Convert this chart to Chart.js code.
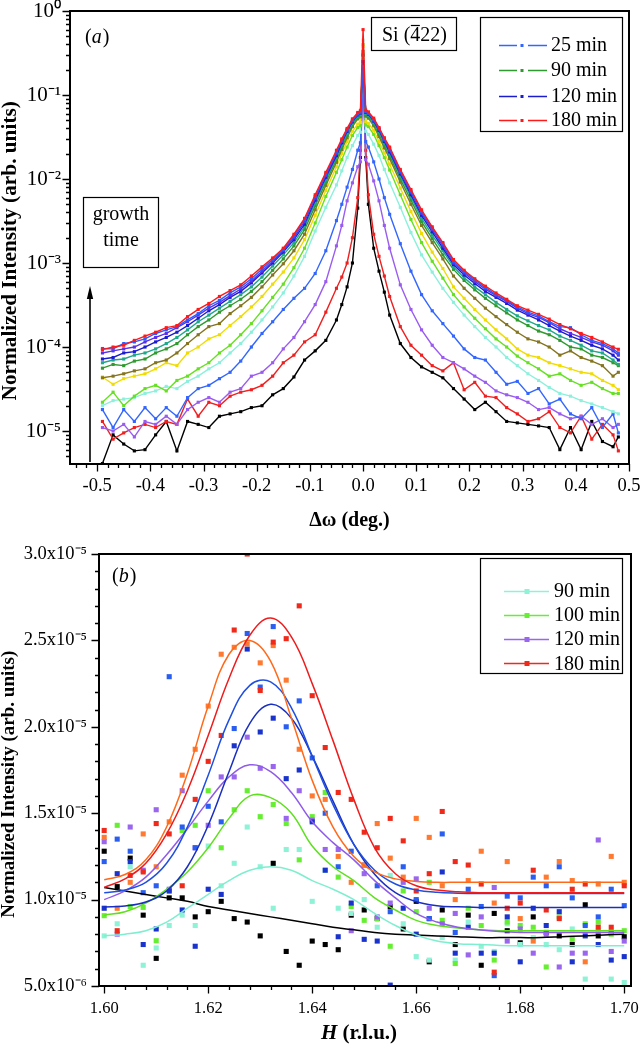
<!DOCTYPE html>
<html><head><meta charset="utf-8">
<script src="https://cdn.jsdelivr.net/npm/chart.js@4.4.1/dist/chart.umd.min.js"></script>
<style>
html,body{margin:0;padding:0;background:#fff;}
#wrap{position:relative;width:640px;height:1057px;overflow:hidden;background:#fff;}
#c1{position:absolute;left:0;top:0;width:640px;height:540px;}
#c2{position:absolute;left:0;top:540px;width:640px;height:517px;}
</style></head><body>
<div id="wrap"><canvas id="c1" width="640" height="540"></canvas><canvas id="c2" width="640" height="517"></canvas></div>
<script>
// ---------------- Panel (a) data ----------------
const omega = [-0.49,-0.47,-0.45,-0.43,-0.41,-0.39,-0.37,-0.35,-0.33,-0.31,-0.29,-0.27,-0.25,-0.23,-0.21,-0.19,-0.17,-0.15,-0.13,-0.11,
 -0.09,-0.07,-0.05,-0.04,-0.03,-0.02,-0.01,-0.005,0,0.005,0.01,0.02,0.03,0.04,0.05,0.07,0.09,
 0.11,0.13,0.15,0.17,0.19,0.21,0.23,0.25,0.27,0.29,0.31,0.33,0.35,0.37,0.39,0.41,0.43,0.45,0.47,0.48];
const sRed2 = [9.3e-5,1.0e-4,1.05e-4,1.2e-4,1.35e-4,1.5e-4,1.7e-4,1.8e-4,2.3e-4,2.8e-4,3.3e-4,4.0e-4,4.7e-4,5.5e-4,7.0e-4,9.0e-4,1.15e-3,1.5e-3,2.2e-3,3.4e-3,
 6.5e-3,1.2e-2,2.2e-2,3.0e-2,4.0e-2,5.2e-2,6.2e-2,6.5e-2,0.6,6.6e-2,6.3e-2,5.3e-2,4.1e-2,3.1e-2,2.4e-2,1.3e-2,7.5e-3,
 4.3e-3,2.7e-3,1.75e-3,1.1e-3,8.2e-4,6.5e-4,5.3e-4,4.4e-4,3.7e-4,3.1e-4,2.75e-4,2.45e-4,2.15e-4,1.85e-4,1.65e-4,1.45e-4,1.3e-4,1.15e-4,1.0e-4,9.4e-5];
const sBlue2 = [9.6e-5,9.5e-5,1.1e-4,1.15e-4,1.25e-4,1.45e-4,1.6e-4,1.75e-4,2.1e-4,2.5e-4,3.1e-4,3.6e-4,4.4e-4,5.2e-4,6.5e-4,8.5e-4,1.1e-3,1.45e-3,2.1e-3,3.3e-3,
 6.2e-3,1.15e-2,2.1e-2,2.9e-2,3.9e-2,5.0e-2,6.0e-2,6.3e-2,0.22,6.4e-2,6.1e-2,5.1e-2,4.0e-2,3.0e-2,2.3e-2,1.25e-2,7.2e-3,
 4.1e-3,2.6e-3,1.7e-3,1.05e-3,7.9e-4,6.3e-4,5.1e-4,4.2e-4,3.6e-4,3.0e-4,2.6e-4,2.35e-4,2.0e-4,1.75e-4,1.7e-4,1.4e-4,1.2e-4,1.1e-4,9.5e-5,8.5e-5];
const sViolet = [8.5e-5,9.0e-5,9.5e-5,1.0e-4,1.15e-4,1.3e-4,1.45e-4,1.7e-4,2.0e-4,2.4e-4,2.9e-4,3.4e-4,4.1e-4,4.9e-4,6.1e-4,8.0e-4,1.05e-3,1.4e-3,2.0e-3,3.1e-3,
 5.9e-3,1.1e-2,2.0e-2,2.8e-2,3.8e-2,4.9e-2,5.9e-2,6.2e-2,0.2,6.3e-2,6.0e-2,5.0e-2,3.9e-2,2.9e-2,2.2e-2,1.2e-2,6.9e-3,
 3.9e-3,2.5e-3,1.6e-3,1.0e-3,7.6e-4,6.0e-4,4.9e-4,4.1e-4,3.5e-4,2.9e-4,2.5e-4,2.25e-4,1.95e-4,1.65e-4,1.45e-4,1.3e-4,1.15e-4,1.05e-4,9.0e-5,8.0e-5];
const sDkBlue = [7.2e-5,7.5e-5,8.5e-5,8.8e-5,1.0e-4,1.15e-4,1.3e-4,1.5e-4,1.8e-4,2.2e-4,2.7e-4,3.2e-4,3.9e-4,4.6e-4,5.8e-4,7.6e-4,1.0e-3,1.35e-3,1.9e-3,2.9e-3,
 5.6e-3,1.05e-2,1.9e-2,2.7e-2,3.7e-2,4.8e-2,5.8e-2,6.1e-2,0.25,6.2e-2,5.9e-2,4.9e-2,3.8e-2,2.8e-2,2.1e-2,1.15e-2,6.5e-3,
 3.7e-3,2.35e-3,1.5e-3,9.6e-4,7.2e-4,5.7e-4,4.6e-4,3.9e-4,3.3e-4,2.75e-4,2.4e-4,2.1e-4,1.8e-4,1.55e-4,1.35e-4,1.2e-4,1.05e-4,9.5e-5,8.0e-5,7.0e-5];
const sTeal = [6.5e-5,7.0e-5,7.2e-5,8.0e-5,8.5e-5,9.5e-5,1.1e-4,1.3e-4,1.6e-4,2.0e-4,2.4e-4,2.9e-4,3.5e-4,4.2e-4,5.2e-4,6.8e-4,9.2e-4,1.25e-3,1.75e-3,2.7e-3,
 5.2e-3,9.8e-3,1.8e-2,2.55e-2,3.5e-2,4.6e-2,5.6e-2,5.9e-2,0.3,6.0e-2,5.7e-2,4.7e-2,3.6e-2,2.65e-2,2.0e-2,1.08e-2,6.1e-3,
 3.4e-3,2.15e-3,1.4e-3,9.0e-4,6.7e-4,5.2e-4,4.2e-4,3.4e-4,2.8e-4,2.35e-4,2.05e-4,1.8e-4,1.6e-4,1.35e-4,1.2e-4,1.05e-4,9.0e-5,8.5e-5,7.0e-5,6.2e-5];
const sGreen = [5.6e-5,6.2e-5,6.0e-5,6.8e-5,7.2e-5,8.5e-5,9.5e-5,1.1e-4,1.4e-4,1.75e-4,2.1e-4,2.6e-4,3.1e-4,3.7e-4,4.6e-4,6.0e-4,8.2e-4,1.12e-3,1.6e-3,2.5e-3,
 4.8e-3,9.2e-3,1.7e-2,2.4e-2,3.3e-2,4.4e-2,5.4e-2,5.7e-2,0.3,5.8e-2,5.5e-2,4.5e-2,3.4e-2,2.5e-2,1.9e-2,1.0e-2,5.6e-3,
 3.1e-3,1.95e-3,1.25e-3,8.4e-4,6.2e-4,4.8e-4,3.8e-4,3.1e-4,2.55e-4,2.1e-4,1.8e-4,1.55e-4,1.4e-4,1.2e-4,1.0e-4,9.5e-5,8.0e-5,7.5e-5,6.5e-5,6.0e-5];
const sOlive = [4.3e-5,4.5e-5,4.8e-5,5.2e-5,5.5e-5,6.5e-5,7.0e-5,8.5e-5,1.1e-4,1.4e-4,1.75e-4,1.9e-4,2.5e-4,3.1e-4,3.9e-4,5.2e-4,7.2e-4,9.8e-4,1.4e-3,2.2e-3,
 4.3e-3,8.4e-3,1.58e-2,2.25e-2,3.1e-2,4.2e-2,5.2e-2,5.5e-2,0.33,5.6e-2,5.3e-2,4.3e-2,3.2e-2,2.35e-2,1.75e-2,9.2e-3,5.0e-3,
 2.8e-3,1.75e-3,1.12e-3,7.0e-4,5.0e-4,3.8e-4,2.9e-4,2.3e-4,1.85e-4,1.5e-4,1.25e-4,1.15e-4,1.0e-4,8.0e-5,9.0e-5,7.5e-5,6.8e-5,6.0e-5,4.5e-5,5.0e-5];
const sYellow = [4.4e-5,3.6e-5,4.2e-5,4.5e-5,4.8e-5,5.5e-5,6.5e-5,6.0e-5,8.5e-5,1.0e-4,1.25e-4,1.4e-4,1.8e-4,2.3e-4,3.0e-4,4.0e-4,5.6e-4,7.8e-4,1.15e-3,1.9e-3,
 3.7e-3,7.3e-3,1.4e-2,2.0e-2,2.8e-2,3.7e-2,4.5e-2,4.7e-2,0.38,4.8e-2,4.6e-2,3.8e-2,2.8e-2,2.05e-2,1.5e-2,7.8e-3,4.1e-3,
 2.25e-3,1.35e-3,8.6e-4,5.2e-4,3.8e-4,2.8e-4,2.1e-4,1.6e-4,1.25e-4,9.5e-5,8.0e-5,7.5e-5,6.5e-5,6.0e-5,5.5e-5,5.0e-5,4.8e-5,4.0e-5,3.5e-5,3.1e-5];
const sLime = [2.2e-5,2.9e-5,2.0e-5,2.6e-5,3.2e-5,3.5e-5,3.0e-5,4.0e-5,4.5e-5,5.5e-5,6.5e-5,8.5e-5,1.05e-4,1.4e-4,1.9e-4,2.7e-4,3.9e-4,5.6e-4,8.8e-4,1.5e-3,
 3.0e-3,6.2e-3,1.2e-2,1.7e-2,2.4e-2,3.3e-2,4.1e-2,4.3e-2,0.4,4.4e-2,4.2e-2,3.4e-2,2.5e-2,1.8e-2,1.28e-2,6.5e-3,3.3e-3,
 1.75e-3,1.05e-3,6.6e-4,4.2e-4,3.0e-4,2.2e-4,1.65e-4,1.25e-4,1.0e-4,7.8e-5,6.5e-5,5.5e-5,4.5e-5,4.8e-5,4.0e-5,3.5e-5,3.8e-5,3.2e-5,2.8e-5,2.8e-5];
const sAqua = [2.0e-5,2.3e-5,2.4e-5,2.5e-5,2.8e-5,3.0e-5,3.4e-5,3.2e-5,3.9e-5,4.5e-5,5.5e-5,6.5e-5,8.5e-5,1.1e-4,1.5e-4,2.1e-4,3.0e-4,4.4e-4,7.0e-4,1.2e-3,
 2.4e-3,4.6e-3,8.5e-3,1.25e-2,1.8e-2,2.5e-2,3.3e-2,3.6e-2,0.45,3.7e-2,3.4e-2,2.6e-2,1.9e-2,1.3e-2,9.0e-3,4.6e-3,2.3e-3,
 1.25e-3,7.8e-4,5.0e-4,3.4e-4,2.4e-4,1.75e-4,1.3e-4,1.0e-4,7.5e-5,6.0e-5,4.8e-5,4.0e-5,3.3e-5,2.8e-5,2.6e-5,2.3e-5,2.1e-5,1.9e-5,1.7e-5,1.6e-5];
const sBlue1 = [1.8e-5,1.1e-5,1.8e-5,1.3e-5,1.9e-5,1.4e-5,1.9e-5,1.5e-5,2.5e-5,3.2e-5,3.5e-5,4.2e-5,5.0e-5,6.8e-5,1.0e-4,1.45e-4,2.0e-4,2.8e-4,3.8e-4,5.0e-4,
 7.5e-4,1.4e-3,3.2e-3,5.0e-3,8.0e-3,1.3e-2,2.2e-2,2.7e-2,0.18,2.8e-2,2.4e-2,1.6e-2,1.0e-2,6.0e-3,3.8e-3,1.7e-3,8.0e-4,
 4.2e-4,2.7e-4,1.9e-4,1.35e-4,9.5e-5,7.5e-5,7.0e-5,5.0e-5,3.6e-5,3.9e-5,2.8e-5,3.2e-5,2.1e-5,2.4e-5,1.6e-5,1.4e-5,1.9e-5,1.1e-5,1.6e-5,9.5e-6];
const sPurple = [1.1e-5,1.0e-5,1.2e-5,8.5e-6,1.3e-5,1.2e-5,1.5e-5,1.2e-5,1.8e-5,2.2e-5,2.5e-5,2.2e-5,2.9e-5,3.2e-5,4.5e-5,5.0e-5,6.5e-5,9.5e-5,1.3e-4,2.0e-4,
 3.2e-4,6.0e-4,1.6e-3,2.8e-3,5.5e-3,9.0e-3,1.4e-2,1.6e-2,0.15,1.7e-2,1.5e-2,9.5e-3,5.5e-3,2.8e-3,1.5e-3,5.5e-4,2.8e-4,
 1.6e-4,1.05e-4,7.5e-5,6.5e-5,5.5e-5,4.5e-5,3.8e-5,3.0e-5,2.7e-5,2.5e-5,2.2e-5,1.8e-5,1.9e-5,1.6e-5,1.4e-5,1.5e-5,1.2e-5,1.4e-5,1.1e-5,1.2e-5];
const sRed1 = [1.3e-5,8.0e-6,9.5e-6,1.1e-5,1.2e-5,1.1e-5,1.3e-5,1.2e-5,2.4e-5,1.5e-5,2.2e-5,2.0e-5,2.6e-5,2.9e-5,3.1e-5,3.5e-5,4.5e-5,6.5e-5,8.0e-5,1.15e-4,
 1.4e-4,2.6e-4,5.0e-4,6.8e-4,1.0e-3,2.0e-3,6.0e-3,2.2e-2,0.3,2.2e-2,6.5e-3,2.2e-3,1.2e-3,7.0e-4,4.0e-4,1.75e-4,1.05e-4,
 8.0e-5,6.0e-5,5.2e-5,6.5e-5,3.1e-5,3.8e-5,2.6e-5,2.5e-5,1.9e-5,1.6e-5,1.3e-5,1.4e-5,1.7e-5,1.1e-5,9.5e-6,1.5e-5,8.0e-6,1.2e-5,9.0e-6,5.8e-6];
const sBlack = [4.1e-6,9.0e-6,7.0e-6,5.8e-6,6.0e-6,9.0e-6,1.3e-5,5.8e-6,1.3e-5,1.2e-5,1.1e-5,1.5e-5,1.6e-5,1.7e-5,1.9e-5,2.0e-5,2.7e-5,3.2e-5,4.4e-5,7.0e-5,
 9.0e-5,1.2e-4,2.1e-4,3.2e-4,5.2e-4,1.0e-3,4.5e-3,1.8e-2,0.2,1.8e-2,5.0e-3,1.5e-3,8.0e-4,4.5e-4,2.4e-4,1.1e-4,7.5e-5,
 5.8e-5,5.0e-5,4.3e-5,3.2e-5,2.4e-5,1.8e-5,2.2e-5,1.7e-5,1.3e-5,1.25e-5,1.2e-5,1.15e-5,1.1e-5,6.0e-6,1.1e-5,6.0e-6,1.3e-5,7.5e-6,6.5e-6,8.5e-6];
const topLegendLabels = ['25 min','90 min','120 min','180 min'];
const topXTicks = [-0.5,-0.4,-0.3,-0.2,-0.1,0,0.1,0.2,0.3,0.4,0.5];
const topYTicks = [1e-5,1e-4,1e-3,1e-2,1e-1,1];
const topYLabels = ['10\u207B\u2075','10\u207B\u2074','10\u207B\u00B3','10\u207B\u00B2','10\u207B\u00B9','10\u2070'];

// ---------------- Panel (b) data ----------------
const hPts = [1.6000,1.6025,1.6050,1.6075,1.6100,1.6125,1.6150,1.6175,1.6200,1.6225,1.6250,1.6275,1.6300,1.6325,1.6350,1.6375,1.6400,1.6425,1.6450,1.6475,
 1.6500,1.6525,1.6550,1.6575,1.6600,1.6625,1.6650,1.6675,1.6700,1.6725,1.6750,1.6775,1.6800,1.6825,1.6850,1.6875,1.6900,1.6925,1.6950,1.6975,1.7000];
const pRed = [14.0,8.2,11.4,11.6,14.4,13.8,10.8,15.8,18.0,19.5,25.6,30.0,22.1,24.9,25.1,27.0,21.8,18.8,16.2,15.8,13.9,13.0,14.7,13.4,10.5,11.5,15.1,12.2,12.0,10.9,5.8,9.5,9.8,11.7,9.4,8.9,10.6,10.9,8.4,8.4,10.8];
const pOrange = [13.6,9.5,11.0,13.8,11.9,14.5,17.2,18.7,21.2,24.2,24.6,24.8,23.7,24.7,22.7,18.7,16.0,15.8,12.5,11.0,12.0,14.4,12.4,11.3,14.7,13.6,10.8,10.0,11.1,12.8,9.8,12.2,8.9,7.6,11.3,12.2,11.1,6.4,10.9,12.5,11.0];
const pBlueA = [12.2,13.5,12.8,10.4,10.8,22.9,14.2,13.0,15.4,14.5,19.9,25.4,22.3,25.8,20.0,21.5,18.2,15.0,11.9,12.8,12.0,10.8,9.3,11.9,10.0,8.9,13.8,8.1,10.6,9.6,5.6,10.2,10.1,11.3,10.8,11.9,10.1,8.5,9.0,10.6,9.65];
const pBlueB = [9.5,11.5,12.2,7.4,8.3,10.5,9.4,7.3,10.6,10.3,18.9,24.5,19.7,20.5,17.0,17.5,14.5,11.7,7.85,9.8,7.7,7.6,5.05,9.5,8.0,8.9,11.6,6.9,8.4,6.9,6.9,9.0,6.4,9.5,8.5,9.3,6.4,7.9,7.4,6.5,6.7];
const pPurple = [13.35,8.0,14.2,11.7,15.2,10.6,16.3,13.0,14.3,17.1,17.1,19.4,17.6,17.7,14.7,16.3,14.6,12.9,12.9,8.2,11.5,9.0,9.8,11.0,11.2,9.5,8.6,9.2,6.8,9.0,10.7,7.6,8.3,6.9,8.0,6.1,6.9,6.9,13.45,7.0,7.6];
const pLime = [9.07,14.3,9.6,9.55,7.62,10.5,14.0,14.3,16.3,13.0,15.2,16.3,14.8,15.5,14.4,12.3,14.8,16.2,11.3,9.6,8.8,8.9,7.3,10.5,9.3,11.0,8.8,6.3,9.5,8.5,6.5,8.7,8.5,8.4,6.1,9.0,7.7,8.6,8.7,8.0,8.2];
const pAqua = [7.9,8.6,11.9,6.2,7.2,8.5,9.1,8.5,13.1,10.8,12.1,14.2,11.9,9.5,12.9,12.9,9.9,11.7,9.5,9.2,10.0,8.4,11.4,8.6,6.7,6.5,7.8,6.5,8.7,7.3,7.0,8.6,7.4,7.8,7.4,7.1,8.3,5.4,8.2,5.4,5.2];
const pBlack = [12.8,10.75,12.4,9.1,6.6,10.1,10.1,9.0,9.3,9.9,8.9,8.7,7.9,12.1,7.0,6.2,7.6,7.4,7.1,9.1,9.4,8.9,9.6,8.3,9.9,6.4,9.4,7.4,9.1,6.2,9.2,8.2,7.5,9.0,8.1,7.9,7.4,9.7,7.9,8.1,7.85];
// fitted curves (units of 1e-5)
const hFit = [1.600,1.604,1.608,1.612,1.616,1.620,1.624,1.628,1.632,1.636,1.640,1.644,1.648,1.652,1.656,1.660,1.664,1.668,1.672,1.676,1.680,1.684,1.688,1.692,1.696,1.700];
const fRed = [1.07,1.12,1.21,1.38,1.63,1.95,2.28,2.53,2.63,2.52,2.25,1.92,1.58,1.30,1.15,1.08,1.055,1.045,1.04,1.04,1.04,1.04,1.04,1.04,1.04,1.04];
const fOrange = [1.115,1.145,1.23,1.42,1.73,2.12,2.42,2.50,2.38,2.05,1.69,1.42,1.25,1.16,1.12,1.105,1.10,1.10,1.10,1.10,1.10,1.10,1.10,1.10,1.10,1.10];
const fBlueA = [1.04,1.056,1.10,1.21,1.42,1.72,2.04,2.24,2.26,2.11,1.83,1.55,1.32,1.17,1.09,1.056,1.042,1.037,1.035,1.035,1.035,1.035,1.035,1.035,1.035,1.035];
const fBlueB = [0.957,0.963,0.986,1.05,1.19,1.43,1.74,2.02,2.13,2.05,1.83,1.57,1.32,1.147,1.04,0.988,0.965,0.958,0.955,0.955,0.955,0.955,0.955,0.955,0.955,0.955];
const fPurple = [1.00,1.05,1.13,1.26,1.41,1.57,1.71,1.78,1.74,1.62,1.45,1.33,1.23,1.11,1.01,0.92,0.87,0.84,0.825,0.815,0.81,0.81,0.81,0.81,0.81,0.81];
const fLime = [0.91,0.93,0.98,1.06,1.16,1.30,1.47,1.60,1.59,1.50,1.31,1.19,1.11,1.01,0.94,0.88,0.85,0.835,0.825,0.82,0.82,0.82,0.82,0.82,0.82,0.82];
const fAqua = [0.79,0.80,0.82,0.87,0.95,1.03,1.11,1.17,1.19,1.17,1.11,1.06,1.00,0.92,0.85,0.795,0.76,0.745,0.74,0.735,0.733,0.733,0.733,0.733,0.733,0.733];
const fBlack = [1.07,1.05,1.03,1.01,0.99,0.96,0.94,0.92,0.90,0.88,0.86,0.84,0.825,0.81,0.80,0.795,0.79,0.785,0.78,0.78,0.78,0.78,0.785,0.79,0.795,0.80];
const botLegendLabels = ['90 min','100 min','120 min','180 min'];
const botXTicks = [1.60,1.62,1.64,1.66,1.68,1.70];
const botYTicks = [5e-6,1e-5,1.5e-5,2e-5,2.5e-5,3e-5];
const botYLabels = ['5.0x10\u207B\u2076','1.0x10\u207B\u2075','1.5x10\u207B\u2075','2.0x10\u207B\u2075','2.5x10\u207B\u2075','3.0x10\u207B\u2075'];

// ---------------- helpers ----------------
const SERIF = "'Liberation Serif','Times New Roman',serif";
Chart.defaults.font.family = SERIF;
Chart.defaults.color = '#000';
function pts(xs, ys, k) { return xs.map((x, i) => ({x: x, y: ys[i] * (k || 1)})); }
function labelFor(ticks, labels, v) {
  for (let i = 0; i < ticks.length; i++) if (Math.abs(ticks[i] - v) <= Math.abs(ticks[i]) * 1e-6) return labels[i];
  return '';
}
function noPad(s) { s.paddingTop = 0; s.paddingBottom = 0; s.paddingLeft = 0; s.paddingRight = 0; }
function drawFrame(chart, o) {
  const ctx = chart.ctx, ca = chart.chartArea, xs = chart.scales.x, ys = chart.scales.y;
  ctx.save();
  ctx.strokeStyle = '#000'; ctx.lineWidth = 1.3;
  ctx.beginPath();
  o.xMinor.forEach(v => { const p = Math.round(xs.getPixelForValue(v)) + 0.5; ctx.moveTo(p, ca.bottom); ctx.lineTo(p, ca.bottom + 4); });
  o.xMajor.forEach(v => { const p = Math.round(xs.getPixelForValue(v)) + 0.5; ctx.moveTo(p, ca.bottom); ctx.lineTo(p, ca.bottom + 7.5); });
  o.yMinor.forEach(v => { const p = Math.round(ys.getPixelForValue(v)) + 0.5; ctx.moveTo(ca.left, p); ctx.lineTo(ca.left - 4, p); });
  o.yMajor.forEach(v => { const p = Math.round(ys.getPixelForValue(v)) + 0.5; ctx.moveTo(ca.left, p); ctx.lineTo(ca.left - 7.5, p); });
  ctx.stroke();
  ctx.lineWidth = 2;
  ctx.strokeRect(ca.left, ca.top, ca.right - ca.left, ca.bottom - ca.top);
  ctx.restore();
}

// ---------------- Panel (a) ----------------
const topSeries = [
  {data: sRed2, color: '#ff1a1a'},
  {data: sBlue2, color: '#2a5cff'},
  {data: sViolet, color: '#5a30e8'},
  {data: sDkBlue, color: '#1c1ccf'},
  {data: sTeal, color: '#1fa88a'},
  {data: sGreen, color: '#2f9a2f'},
  {data: sOlive, color: '#857520'},
  {data: sYellow, color: '#f0dc00'},
  {data: sLime, color: '#66e022'},
  {data: sAqua, color: '#8cf0dc'},
  {data: sBlue1, color: '#3366ff'},
  {data: sPurple, color: '#9a5cf0'},
  {data: sRed1, color: '#f02020'},
  {data: sBlack, color: '#000000'}
];
const topLegendColors = ['#3366ff', '#2f9a2f', '#1c1ccf', '#ff1a1a'];

const aMinorX = [], aMajorX = topXTicks.slice();
for (let i = -27; i <= 25; i++) aMinorX.push(i * 0.02);
const aMinorY = [], aMajorY = topYTicks.slice();
for (let d = -6; d <= 0; d++) for (let m = 2; m <= 9; m++) { const v = m * Math.pow(10, d); if (v >= 4.05e-6 && v <= 1) aMinorY.push(v); }

const decoA = {
  id: 'decoA',
  afterDraw(chart) {
    drawFrame(chart, {xMinor: aMinorX, xMajor: aMajorX, yMinor: aMinorY, yMajor: aMajorY});
    const ctx = chart.ctx;
    ctx.save();
    ctx.fillStyle = '#000'; ctx.strokeStyle = '#000';
    let x = 85; const by = 43;
    ctx.font = '20px ' + SERIF; ctx.textBaseline = 'alphabetic'; ctx.textAlign = 'left';
    ctx.fillText('(', x, by); x += ctx.measureText('(').width;
    ctx.font = 'italic 20px ' + SERIF; ctx.fillText('a', x, by); x += ctx.measureText('a').width + 1;
    ctx.font = '20px ' + SERIF; ctx.fillText(')', x, by);
    ctx.lineWidth = 1.2;
    ctx.strokeRect(371.5, 17.5, 85, 33);
    ctx.font = '20px ' + SERIF;
    x = 382; const sy = 41;
    ctx.fillText('Si (', x, sy); x += ctx.measureText('Si (').width;
    const w4 = ctx.measureText('4').width;
    ctx.fillText('4', x, sy);
    ctx.beginPath(); ctx.moveTo(x + 0.5, 25.5); ctx.lineTo(x + w4 - 0.5, 25.5); ctx.lineWidth = 1.2; ctx.stroke();
    x += w4; ctx.fillText('22)', x, sy);
    ctx.lineWidth = 1.2;
    ctx.strokeRect(480.5, 17.5, 142, 114);
    const rows = [45, 70, 96, 120];
    ctx.textBaseline = 'middle';
    topLegendLabels.forEach((lab, i) => {
      const y = rows[i] + 0.5, c = topLegendColors[i];
      ctx.strokeStyle = c; ctx.lineWidth = 1.6;
      ctx.beginPath(); ctx.moveTo(499, y); ctx.lineTo(517, y); ctx.moveTo(528, y); ctx.lineTo(547, y); ctx.stroke();
      ctx.fillStyle = c; ctx.fillRect(520.5, y - 1.5, 3, 3);
      ctx.fillStyle = '#000'; ctx.font = '20px ' + SERIF;
      ctx.fillText(lab, 551, rows[i] + 1);
    });
    ctx.strokeStyle = '#000'; ctx.lineWidth = 1.2;
    ctx.strokeRect(83.5, 197.5, 75, 70);
    ctx.textBaseline = 'alphabetic'; ctx.textAlign = 'center'; ctx.fillStyle = '#000';
    ctx.font = '20px ' + SERIF;
    ctx.fillText('growth', 121, 220);
    ctx.fillText('time', 121, 246);
    ctx.lineWidth = 1.6;
    ctx.beginPath(); ctx.moveTo(90, 462); ctx.lineTo(90, 296); ctx.stroke();
    ctx.beginPath(); ctx.moveTo(86.8, 299); ctx.lineTo(90, 286); ctx.lineTo(93.2, 299); ctx.closePath(); ctx.fill();
    ctx.restore();
  }
};

new Chart(document.getElementById('c1'), {
  type: 'scatter',
  data: {
    datasets: topSeries.map(s => ({
      data: pts(omega, s.data),
      showLine: true,
      borderColor: s.color, backgroundColor: s.color,
      borderWidth: 1.4, pointRadius: 2.2, pointStyle: 'rect', pointBorderWidth: 0,
      tension: 0
    }))
  },
  options: {
    responsive: false, animation: false, devicePixelRatio: 1,
    layout: {padding: {left: 0, top: 11, right: 11, bottom: 0}},
    plugins: {legend: {display: false}, tooltip: {enabled: false}},
    scales: {
      x: {
        type: 'linear', min: -0.551, max: 0.5,
        afterBuildTicks: s => { s.ticks = topXTicks.map(v => ({value: v})); },
        afterFit: s => { s.height = 76; noPad(s); },
        grid: {display: false, drawTicks: false}, border: {display: false},
        ticks: {padding: 11, autoSkip: false, maxRotation: 0, color: '#000', font: {size: 18.5, family: SERIF},
                callback: v => Number(v).toFixed(1)},
        title: {display: true, text: '\u0394\u03C9 (deg.)', color: '#000', font: {size: 20, weight: 'bold', family: SERIF}, padding: {top: 0, bottom: 7}}
      },
      y: {
        type: 'logarithmic', min: 4.05e-6, max: 1,
        afterBuildTicks: s => { s.ticks = topYTicks.map(v => ({value: v})); },
        afterFit: s => { s.width = 70; noPad(s); },
        grid: {display: false, drawTicks: false}, border: {display: false},
        ticks: {padding: 9, autoSkip: false, color: '#000', font: {size: 21, family: SERIF},
                callback: v => labelFor(topYTicks, topYLabels, v)},
        title: {display: true, text: 'Normalized Intensity (arb. units)     ', color: '#000',
                font: {size: 21.3, weight: 'bold', family: SERIF, lineHeight: 1}, padding: {top: 0, bottom: 0}}
      }
    }
  },
  plugins: [decoA]
});

// ---------------- Panel (b) ----------------
const scatterSeries = [
  {data: pRed, color: '#f02a1a'},
  {data: pOrange, color: '#ff7a30'},
  {data: pBlueA, color: '#2a5ef0'},
  {data: pBlueB, color: '#1a33cc'},
  {data: pPurple, color: '#9a66ee'},
  {data: pLime, color: '#66ee33'},
  {data: pAqua, color: '#8ef2d6'},
  {data: pBlack, color: '#000000'}
];
const fitSeries = [
  {data: fRed, color: '#ee1c1c'},
  {data: fOrange, color: '#ff6a1a'},
  {data: fBlueA, color: '#1f4fe0'},
  {data: fBlueB, color: '#1a2fc0'},
  {data: fPurple, color: '#8f5be8'},
  {data: fLime, color: '#5fe01f'},
  {data: fAqua, color: '#7feecf'},
  {data: fBlack, color: '#000000'}
];
const botLegendColors = ['#8ef2d6', '#66ee33', '#9a66ee', '#f02a1a'];

const bMinorX = [], bMinorY = [];
for (let i = 0; i <= 25; i++) bMinorX.push(1.6 + i * 0.004);
for (let i = 5; i <= 30; i++) bMinorY.push(i * 1e-6);

const decoB = {
  id: 'decoB',
  afterDraw(chart) {
    drawFrame(chart, {xMinor: bMinorX, xMajor: botXTicks, yMinor: bMinorY, yMajor: botYTicks});
    const ctx = chart.ctx;
    ctx.save();
    ctx.fillStyle = '#000'; ctx.strokeStyle = '#000';
    let x = 112; const by = 42;
    ctx.font = '20px ' + SERIF; ctx.textBaseline = 'alphabetic'; ctx.textAlign = 'left';
    ctx.fillText('(', x, by); x += ctx.measureText('(').width;
    ctx.font = 'italic 20px ' + SERIF; ctx.fillText('b', x, by); x += ctx.measureText('b').width + 1;
    ctx.font = '20px ' + SERIF; ctx.fillText(')', x, by);
    ctx.lineWidth = 1.2;
    ctx.strokeRect(480.5, 18.5, 142, 115);
    const rows = [50.7, 75, 99, 123.3];
    ctx.textBaseline = 'middle';
    botLegendLabels.forEach((lab, i) => {
      const y = Math.round(rows[i]) + 0.5, c = botLegendColors[i];
      ctx.strokeStyle = c; ctx.lineWidth = 1.3;
      ctx.beginPath(); ctx.moveTo(504, y); ctx.lineTo(549, y); ctx.stroke();
      ctx.fillStyle = c; ctx.fillRect(524.5, y - 2.5, 5, 5);
      ctx.fillStyle = '#000'; ctx.font = '20px ' + SERIF;
      ctx.fillText(lab, 554, rows[i] + 1);
    });
    ctx.textBaseline = 'alphabetic'; ctx.textAlign = 'left'; ctx.fillStyle = '#000';
    const f1 = 'italic bold 21px ' + SERIF, f2 = 'bold 21px ' + SERIF;
    ctx.font = f1; const wH = ctx.measureText('H').width;
    ctx.font = f2; const wR = ctx.measureText(' (r.l.u.)').width;
    let tx = 359 - (wH + wR) / 2;
    ctx.font = f1; ctx.fillText('H', tx, 499);
    ctx.font = f2; ctx.fillText(' (r.l.u.)', tx + wH, 499);
    ctx.restore();
  }
};

new Chart(document.getElementById('c2'), {
  type: 'scatter',
  data: {
    datasets: fitSeries.map(s => ({
      data: pts(hFit, s.data, 1e-5), showLine: true, order: 0,
      borderColor: s.color, backgroundColor: s.color, borderWidth: 1.5,
      pointRadius: 0, tension: 0.4
    })).concat(scatterSeries.map(s => ({
      data: pts(hPts, s.data, 1e-6), showLine: false, order: 1,
      borderColor: s.color, backgroundColor: s.color, pointStyle: 'rect',
      pointRadius: 3.6, pointBorderWidth: 0
    })))
  },
  options: {
    responsive: false, animation: false, devicePixelRatio: 1,
    layout: {padding: {left: 0, top: 14, right: 9, bottom: 0}},
    plugins: {legend: {display: false}, tooltip: {enabled: false}},
    scales: {
      x: {
        type: 'linear', min: 1.599, max: 1.7013,
        afterBuildTicks: s => { s.ticks = botXTicks.map(v => ({value: v})); },
        afterFit: s => { s.height = 71; noPad(s); },
        grid: {display: false, drawTicks: false}, border: {display: false},
        ticks: {padding: 12.5, autoSkip: false, maxRotation: 0, color: '#000', font: {size: 16.5, family: SERIF},
                callback: v => Number(v).toFixed(2)},
        title: {display: false}
      },
      y: {
        type: 'linear', min: 5e-6, max: 3e-5,
        afterBuildTicks: s => { s.ticks = botYTicks.map(v => ({value: v})); },
        afterFit: s => { s.width = 99; noPad(s); },
        grid: {display: false, drawTicks: false}, border: {display: false},
        ticks: {padding: 12, autoSkip: false, color: '#000', font: {size: 18.5, family: SERIF},
                callback: v => labelFor(botYTicks, botYLabels, v)},
        title: {display: true, text: 'Normalized Intensity (arb. units)      ', color: '#000',
                font: {size: 19, weight: 'bold', family: SERIF, lineHeight: 1}, padding: {top: 0, bottom: 0}}
      }
    }
  },
  plugins: [decoB]
});
</script>
</body></html>
